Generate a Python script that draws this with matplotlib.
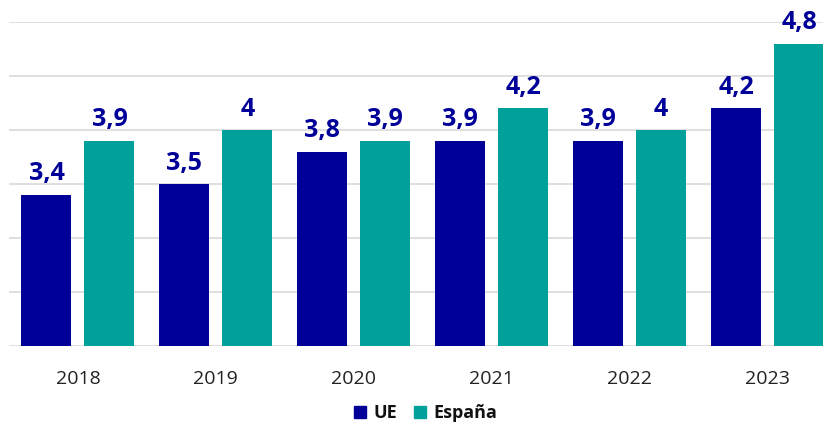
import numpy as np
import matplotlib.pyplot as plt
from matplotlib.lines import Line2D

plt.rcParams['font.family'] = ['Open Sans', 'DejaVu Sans']

years = ['2018', '2019', '2020', '2021', '2022', '2023']
ue = [3.4, 3.5, 3.8, 3.9, 3.9, 4.2]
espana = [3.9, 4.0, 3.9, 4.2, 4.0, 4.8]

blue = '#000099'
teal = '#00A19A'

fig = plt.figure(figsize=(8.23, 4.28), dpi=100)
ax = fig.add_axes([9 / 823, 1 - 346 / 428, 1 - 9 / 823, 324 / 428])

x = np.arange(len(years))
w = 50 / 138
off = 31.5 / 138
b1 = ax.bar(x - off, [v - 2 for v in ue], w, bottom=2, color=blue, zorder=3)
b2 = ax.bar(x + off, [v - 2 for v in espana], w, bottom=2, color=teal, zorder=3)

def fmt(v):
    s = ('%.1f' % v).replace('.', ',')
    return s[:-2] if s.endswith(',0') else s

for xs, vals in ((x - off, ue), (x + off, espana)):
    for xi, v in zip(xs, vals):
        ax.annotate(fmt(v), (xi, v), xytext=(0, 6), textcoords='offset points',
                    ha='center', va='bottom', fontsize=18, fontweight='bold',
                    color=blue, clip_on=False)

ax.set_xlim(-0.5, 5.0 + (823 - 767.5) / 138)
ax.set_ylim(2, 5)
ax.set_yticks(np.arange(2, 5.01, 0.5))
ax.yaxis.grid(True, color='#d9d9d9', linewidth=1.2, zorder=0)
ax.tick_params(axis='y', left=False, labelleft=False)
ax.tick_params(axis='x', bottom=False, labelsize=14, pad=14, colors='#222222')
ax.set_xticks(x)
ax.set_xticklabels(years)
for s in ax.spines.values():
    s.set_visible(False)

handles = [Line2D([], [], marker='s', linestyle='', markersize=9, color=blue),
           Line2D([], [], marker='s', linestyle='', markersize=9, color=teal)]
fig.legend(handles, ['UE', 'España'], loc='center', bbox_to_anchor=(425 / 823, 1 - 413 / 428),
           ncol=2, frameon=False, handlelength=0.8, handletextpad=0.3, columnspacing=0.9,
           prop={'size': 13, 'weight': 'bold'}, labelcolor='#111111')

fig.savefig('out.png', dpi=100)
